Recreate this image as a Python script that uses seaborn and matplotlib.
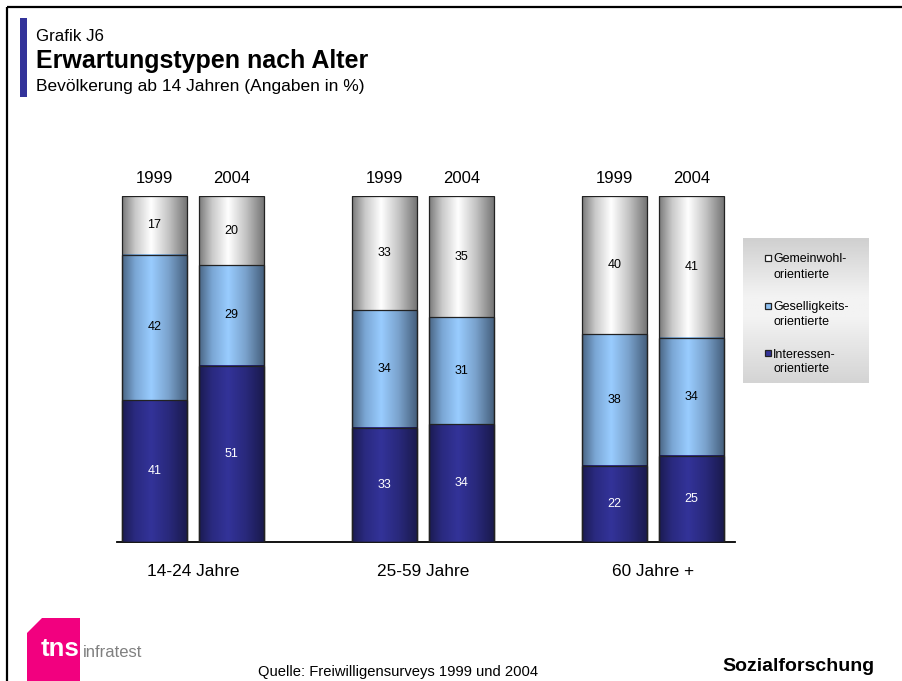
import numpy as np
import matplotlib
matplotlib.use('Agg')
import matplotlib.pyplot as plt
import seaborn as sns
from matplotlib.colors import LinearSegmentedColormap
from matplotlib.patches import Polygon, Rectangle

# data
groups = ['14-24 Jahre', '25-59 Jahre', '60 Jahre +']
years = ['1999', '2004', '1999', '2004', '1999', '2004']
positions = [0, 1, 3, 4, 6, 7]
interessen = [41, 51, 33, 34, 22, 25]
geselligkeit = [42, 29, 34, 31, 38, 34]
gemeinwohl = [17, 20, 33, 35, 40, 41]
legend_labels = [('Gemeinwohl-', 'orientierte'),
                 ('Geselligkeits-', 'orientierte'),
                 ('Interessen-', 'orientierte')]

sns.set_theme(style="white")
plt.rcParams['font.family'] = ['Liberation Sans', 'DejaVu Sans']
plt.rcParams['text.color'] = 'black'

W, H = 902, 681
fig = plt.figure(figsize=(W / 100, H / 100), dpi=100)

# overlay in pixel coordinates for frame, header, legend box and logo
ov = fig.add_axes([0, 0, 1, 1])
ov.set_xlim(0, W)
ov.set_ylim(H, 0)
ov.axis('off')

ax = fig.add_axes([117 / W, (H - 542) / H, 618 / W, 346 / H])
ax.set_facecolor('none')

# stacked bars drawn as cumulative heights, top layer first
lay1 = np.array(interessen)
lay2 = lay1 + np.array(geselligkeit)
lay3 = lay2 + np.array(gemeinwohl)
layers = [
    (lay3, ('#7a7a7a', '#c9c9c9', '#ffffff', '#c4c4c4', '#767676'), 1),
    (lay2, ('#4a6584', '#7aa6d4', '#99ccff', '#7aa2cc', '#46607e'), 2),
    (lay1, ('#1b1b52', '#2a2a80', '#333399', '#29297c', '#1a1a4e'), 3),
]
bar_w = 0.847
for heights, stops, z in layers:
    n0 = len(ax.patches)
    sns.barplot(x=positions, y=heights, native_scale=True, orient='x',
                width=bar_w, color='white', saturation=1, errorbar=None,
                edgecolor='#222222', linewidth=0.9, ax=ax)
    cmap = LinearSegmentedColormap.from_list(
        'cyl', list(zip([0, 0.2, 0.45, 0.72, 1], stops)))
    grad = np.linspace(0, 1, 200)[np.newaxis, :]
    for p in ax.patches[n0:]:
        p.set_facecolor('none')
        p.set_zorder(5)
        x0, y0 = p.get_x(), p.get_y()
        ax.imshow(grad, cmap=cmap, aspect='auto', zorder=z,
                  extent=(x0, x0 + p.get_width(), y0, y0 + p.get_height()))

# value labels
bottom = np.zeros(len(positions))
for vals, col in [(interessen, 'white'), (geselligkeit, 'black'),
                  (gemeinwohl, 'black')]:
    for x, b, v in zip(positions, bottom, vals):
        ax.text(x, b + v / 2, str(v), ha='center', va='center',
                fontsize=9, color=col, zorder=6)
    bottom = bottom + np.array(vals)

for x, yr in zip(positions, years):
    ax.text(x, 105, yr, ha='center', va='center', fontsize=12,
            color='black', clip_on=False)
for i, g in enumerate(groups):
    gx = (positions[2 * i] + positions[2 * i + 1]) / 2
    ax.text(gx, -8.4, g, ha='center', va='center', fontsize=12.4,
            color='black', clip_on=False)

ax.set_xlim(-0.489, 7.568)
ax.set_ylim(0, 100)
ax.set_xticks([])
ax.set_yticks([])
ax.set_xlabel('')
ax.set_ylabel('')
for s in ['top', 'right', 'left']:
    ax.spines[s].set_visible(False)
ax.spines['bottom'].set_color('black')
ax.spines['bottom'].set_linewidth(1.3)

# frame and header
ov.plot([6.5, W], [6.5, 6.5], color='black', lw=1.6, solid_capstyle='butt')
ov.plot([6.5, 6.5], [6.5, H], color='black', lw=1.6, solid_capstyle='butt')
ov.add_patch(Rectangle((20, 18), 6.5, 79, color='#33339a', lw=0))
ov.text(36, 41, 'Grafik J6', fontsize=12.2, va='baseline')
ov.text(36, 68, 'Erwartungstypen nach Alter', fontsize=18, weight='bold',
        va='baseline')
ov.text(36, 91, 'Bevölkerung ab 14 Jahren (Angaben in %)', fontsize=12.5,
        va='baseline')

# legend box
lcmap = LinearSegmentedColormap.from_list(
    'lg', list(zip([0, 0.4, 0.55, 1], ['#d0d0d0', '#f3f3f3', '#f3f3f3', '#d4d4d4'])))
ov.imshow(np.linspace(0, 1, 100)[:, np.newaxis], cmap=lcmap, aspect='auto',
          extent=(743, 869, 383, 238), zorder=1)
sq_colors = ['#ffffff', '#8ec0f2', '#333399']
for i, ((l1, l2), c) in enumerate(zip(legend_labels, sq_colors)):
    yb = 262.5 + i * 47.5
    ov.add_patch(Rectangle((764.5, yb - 7.5), 6, 6, facecolor=c,
                           edgecolor='#222222', lw=0.9, zorder=3))
    ov.text(773, yb, l1, fontsize=9, va='baseline', zorder=3)
    ov.text(773, yb + 15, l2, fontsize=9, va='baseline', zorder=3)

# footer
ov.text(398, 676, 'Quelle: Freiwilligensurveys 1999 und 2004', fontsize=10.6,
        ha='center', va='baseline')
ov.text(798, 671, 'Sozialforschung', fontsize=14, weight='bold',
        ha='center', va='baseline')

# logo
ov.add_patch(Polygon([(27, H), (27, 633), (42, 618), (80, 618), (80, H)],
                     closed=True, facecolor='#f2007f', lw=0))
ov.text(41, 656, 'tns', fontsize=18.5, weight='bold', color='white',
        va='baseline')
ov.text(83, 657, 'infratest', fontsize=12, color='#808080', va='baseline')

fig.savefig('out.png', dpi=100)
